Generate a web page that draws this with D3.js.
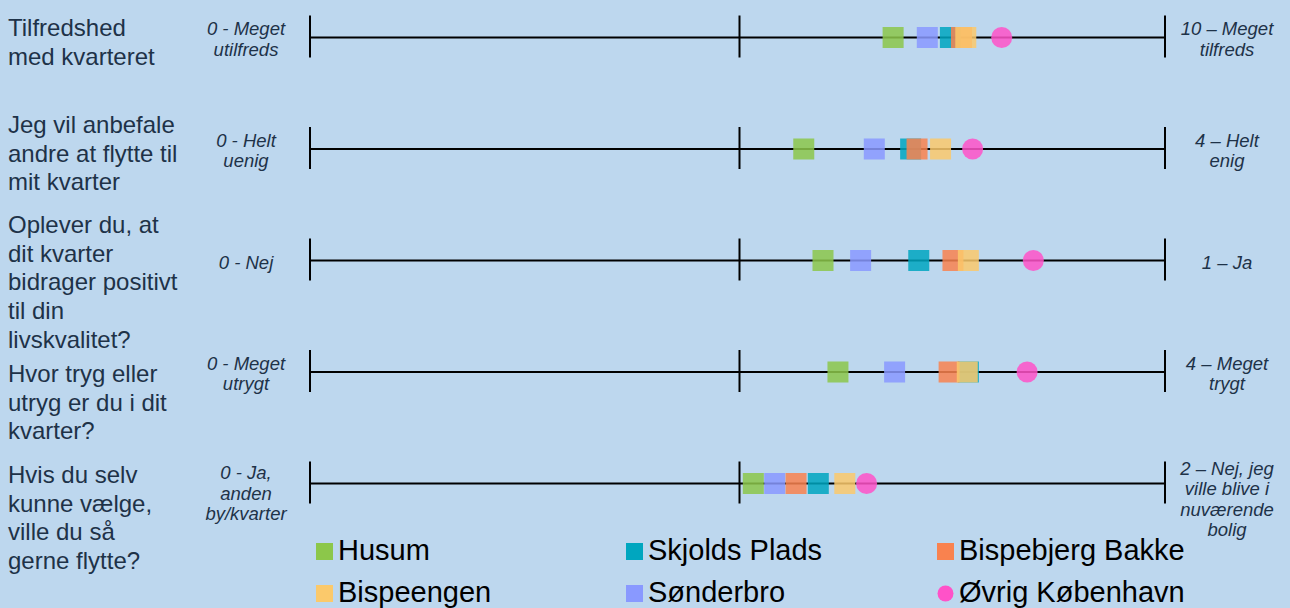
<!DOCTYPE html>
<html>
<head>
<meta charset="utf-8">
<script src="https://cdn.jsdelivr.net/npm/d3@7"></script>
<style>
  body { margin: 0; background: #bdd7ee; }
  svg { display: block; font-family: "Liberation Sans", Arial, sans-serif; }
</style>
</head>
<body>
<div id="chart"></div>
<script>
// questions (left labels, one entry per line)
var questions = [
  ["Tilfredshed", "med kvarteret"],
  ["Jeg vil anbefale", "andre at flytte til", "mit kvarter"],
  ["Oplever du, at", "dit kvarter", "bidrager positivt", "til din", "livskvalitet?"],
  ["Hvor tryg eller", "utryg er du i dit", "kvarter?"],
  ["Hvis du selv", "kunne vælge,", "ville du så", "gerne flytte?"]
];
var scaleMax = [10, 4, 1, 4, 2];
var lowLabels = [
  ["0 - Meget", "utilfreds"],
  ["0 - Helt", "uenig"],
  ["0 - Nej"],
  ["0 - Meget", "utrygt"],
  ["0 - Ja,", "anden", "by/kvarter"]
];
var highLabels = [
  ["10 – Meget", "tilfreds"],
  ["4 – Helt", "enig"],
  ["1 – Ja"],
  ["4 – Meget", "trygt"],
  ["2 – Nej, jeg", "ville blive i", "nuværende", "bolig"]
];

// groups (legend order)
var groups = ["Husum", "Skjolds Plads", "Bispebjerg Bakke", "Bispeengen", "Sønderbro", "Øvrig København"];
// mean scores per question, one value per group
var husum       = [6.82, 2.31, 0.600, 2.47, 1.037];
var skjolds     = [7.49, 2.81, 0.712, 3.08, 1.189];
var bispebjerg  = [7.62, 2.84, 0.752, 2.99, 1.137];
var bispeengen  = [7.67, 2.95, 0.770, 3.075, 1.251];
var sonderbro   = [7.22, 2.64, 0.644, 2.735, 1.087];
var ovrig       = [8.09, 3.10, 0.846, 3.355, 1.302];

var seriesValues = [husum, skjolds, bispebjerg, bispeengen, sonderbro, ovrig];
var colors = ["#8cc74a", "#00a6bf", "#f9824f", "#fbc96b", "#8999ff", "#ff52c8"];
var drawOrder = [0, 4, 1, 2, 3, 5];

var W = 1290, H = 608;
var svg = d3.select("#chart").append("svg")
    .attr("width", W)
    .attr("height", H);

svg.append("rect").attr("width", W).attr("height", H).attr("fill", "#bdd7ee");

var rowY = d3.scalePoint()
    .domain(d3.range(questions.length))
    .range([37.5, 483.5]);

var x0 = 310, x1 = 1165;
var txtCol = "#1e3248";
// small tweaks so multi-line end labels sit like the original
var lowShift = [0, 0, 0, 0, 8];
var highShift = [0, 0, 0, 0, 14];

questions.forEach(function(q, i) {
    var y = rowY(i);
    var x = d3.scaleLinear().domain([0, scaleMax[i]]).range([x0, x1]);
    var g = svg.append("g");

    // axis line + ticks
    g.append("line")
        .attr("x1", x(0)).attr("x2", x(scaleMax[i]))
        .attr("y1", y).attr("y2", y)
        .attr("stroke", "#000").attr("stroke-width", 2);
    [0, scaleMax[i] / 2, scaleMax[i]].forEach(function(t) {
        var xt = x(t) + (t === scaleMax[i] / 2 ? 2 : 0);
        g.append("line")
            .attr("x1", xt).attr("x2", xt)
            .attr("y1", y - 22).attr("y2", y + 20)
            .attr("stroke", "#000").attr("stroke-width", 2);
    });

    // end labels
    function endLabel(lines, cx, shift) {
        var lh = 20.5;
        var top = y + shift - (lines.length - 1) * lh / 2 + 8;
        var t = g.append("text")
            .attr("text-anchor", "middle")
            .attr("font-size", 18.5)
            .attr("font-style", "italic")
            .attr("fill", txtCol);
        lines.forEach(function(l, k) {
            t.append("tspan").attr("x", cx).attr("y", top + k * lh).text(l);
        });
    }
    endLabel(lowLabels[i], 246, lowShift[i]);
    endLabel(highLabels[i], 1227, highShift[i]);

    // markers
    drawOrder.forEach(function(s) {
        var v = seriesValues[s][i];
        if (s === 5) {
            g.append("circle")
                .attr("cx", x(v)).attr("cy", y).attr("r", 10.5)
                .attr("fill", colors[s]).attr("fill-opacity", 0.85);
        } else {
            g.append("rect")
                .attr("x", x(v) - 10.5).attr("y", y - 10.5)
                .attr("width", 21).attr("height", 21)
                .attr("fill", colors[s]).attr("fill-opacity", 0.85);
        }
    });
});

// question labels
var qFirstBaseline = [36, 133, 233, 382, 483];
questions.forEach(function(q, i) {
    var t = svg.append("text")
        .attr("font-size", 24)
        .attr("fill", txtCol);
    q.forEach(function(l, k) {
        t.append("tspan").attr("x", 8).attr("y", qFirstBaseline[i] + k * 28.7).text(l);
    });
});

// legend
var legX = [316, 626, 937];
var legY = [560, 602];
var legend = svg.append("g");
groups.forEach(function(name, s) {
    var cx = legX[s % 3], by = legY[Math.floor(s / 3)];
    if (s === 5) {
        legend.append("circle")
            .attr("cx", cx + 8.5).attr("cy", by - 8.5).attr("r", 8)
            .attr("fill", colors[s]);
    } else {
        legend.append("rect")
            .attr("x", cx).attr("y", by - 17)
            .attr("width", 17).attr("height", 17)
            .attr("fill", colors[s]);
    }
    legend.append("text")
        .attr("x", cx + 22).attr("y", by)
        .attr("font-size", 29)
        .attr("fill", "#000")
        .text(name);
});
</script>
</body>
</html>
